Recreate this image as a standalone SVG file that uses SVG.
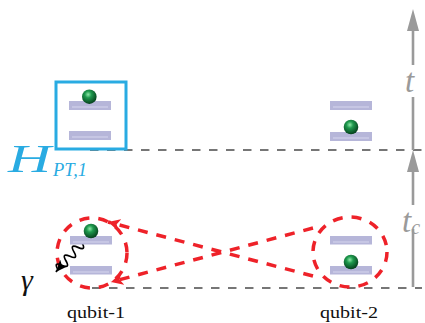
<svg xmlns="http://www.w3.org/2000/svg" width="425" height="323" viewBox="0 0 425 323">
<defs>
<radialGradient id="ball" cx="0.42" cy="0.35" r="0.65">
<stop offset="0" stop-color="#8fe8a8"/>
<stop offset="0.35" stop-color="#1f9a4e"/>
<stop offset="1" stop-color="#05401c"/>
</radialGradient>
<marker id="redArrow" markerUnits="userSpaceOnUse" markerWidth="14" markerHeight="12" refX="12" refY="6" orient="auto">
<path d="M0,0 L12,6 L0,12 L3,6 Z" fill="#ee2229"/>
</marker>
<marker id="blackArrow" markerUnits="userSpaceOnUse" markerWidth="14" markerHeight="12" refX="12" refY="6" orient="auto">
<path d="M0,1 L12,6 L0,11 L3,6 Z" fill="#000"/>
</marker>
</defs>
<style>
.bar{fill:#b6b6d9}
.barhl{stroke:#d6d6ee;stroke-width:1}
.ball{fill:url(#ball)}
.gdash{stroke:#4a4a4a;stroke-width:1.6;stroke-dasharray:8.5 8.5;fill:none}
.rdash{stroke:#ee2229;stroke-width:3.5;stroke-dasharray:10 9;fill:none}
.gray{stroke:#9a9a9a;stroke-width:2.6;fill:none}
.grayfill{fill:#9a9a9a}
.lbl{font-family:"Liberation Serif","Times New Roman",serif;font-size:17.5px;fill:#111}
.tl{font-family:"Liberation Serif","Times New Roman",serif;font-style:italic;fill:#9a9a9a}
</style>

<g id="connectors">
<line class="gdash" x1="90" y1="150" x2="422" y2="150"/>
<line class="gdash" x1="92" y1="288" x2="422" y2="288"/>
<path class="rdash" d="M313,276 L108,222" marker-end="url(#redArrow)"/>
<path class="rdash" d="M313,228 L111,282" marker-end="url(#redArrow)"/>
<ellipse class="rdash" cx="92" cy="253" rx="35" ry="35"/>
<ellipse class="rdash" cx="350" cy="252" rx="37" ry="35"/>
<path d="M0,0 q3,-9 6,0 t6,0 t6,0 t6,0 t6,0 t6,0 t6,0 t6,0 l3,0" transform="translate(90,234) rotate(132)" fill="none" stroke="#000" stroke-width="1.7" marker-end="url(#blackArrow)"/>
</g>

<g id="time-axis">
<line class="gray" x1="413" y1="150" x2="413" y2="97"/>
<line class="gray" x1="413" y1="65" x2="413" y2="30"/>
<polygon class="grayfill" points="413,9 407,31 419,31"/>
<text class="tl" x="405" y="92" font-size="33">t</text>
<line class="gray" x1="413" y1="287" x2="413" y2="229"/>
<line class="gray" x1="413" y1="205" x2="413" y2="171"/>
<polygon class="grayfill" points="413,150 407,172 419,172"/>
<text class="tl" x="402" y="232" font-size="33">t<tspan font-size="20" dy="2">c</tspan></text>
</g>

<g id="qubit1-top">
<rect x="56" y="82" width="70" height="67" fill="none" stroke="#29abe2" stroke-width="3"/>
<rect class="bar" x="69" y="101" width="42" height="9"/>
<line class="barhl" x1="72" y1="107" x2="108" y2="107"/>
<rect class="bar" x="69" y="131" width="42" height="9"/>
<line class="barhl" x1="72" y1="137" x2="108" y2="137"/>
<circle class="ball" cx="89.3" cy="96.7" r="7.3"/>
</g>

<g id="label-H">
<text x="8" y="172" font-family="'Liberation Serif','Times New Roman',serif" font-style="italic" font-size="41" fill="#29abe2" textLength="43" lengthAdjust="spacingAndGlyphs">H</text>
<text x="53" y="176" font-family="'Liberation Serif','Times New Roman',serif" font-style="italic" font-size="18" fill="#29abe2" textLength="34" lengthAdjust="spacingAndGlyphs">PT,1</text>
</g>

<g id="qubit2-top">
<rect class="bar" x="330" y="101" width="42" height="9"/>
<line class="barhl" x1="333" y1="107" x2="369" y2="107"/>
<rect class="bar" x="330" y="132" width="42" height="9"/>
<line class="barhl" x1="333" y1="138" x2="369" y2="138"/>
<circle class="ball" cx="351" cy="127" r="7.3"/>
</g>

<g id="qubit1-bottom">
<rect class="bar" x="70" y="236" width="42" height="8.5"/>
<line class="barhl" x1="73" y1="242" x2="109" y2="242"/>
<rect class="bar" x="70" y="266" width="42" height="8.5"/>
<line class="barhl" x1="73" y1="272" x2="109" y2="272"/>
<circle class="ball" cx="91" cy="231" r="7.3"/>
<text x="21" y="290" font-family="'Liberation Serif','Times New Roman',serif" font-style="italic" font-size="30" fill="#111">γ</text>
<text class="lbl" x="67" y="318" textLength="58" lengthAdjust="spacingAndGlyphs">qubit-1</text>
</g>

<g id="qubit2-bottom">
<rect class="bar" x="330" y="236" width="42" height="8.5"/>
<line class="barhl" x1="333" y1="242" x2="369" y2="242"/>
<rect class="bar" x="330" y="266" width="42" height="8.5"/>
<line class="barhl" x1="333" y1="272" x2="369" y2="272"/>
<circle class="ball" cx="351" cy="262" r="7.3"/>
<text class="lbl" x="320" y="318" textLength="58" lengthAdjust="spacingAndGlyphs">qubit-2</text>
</g>
</svg>
